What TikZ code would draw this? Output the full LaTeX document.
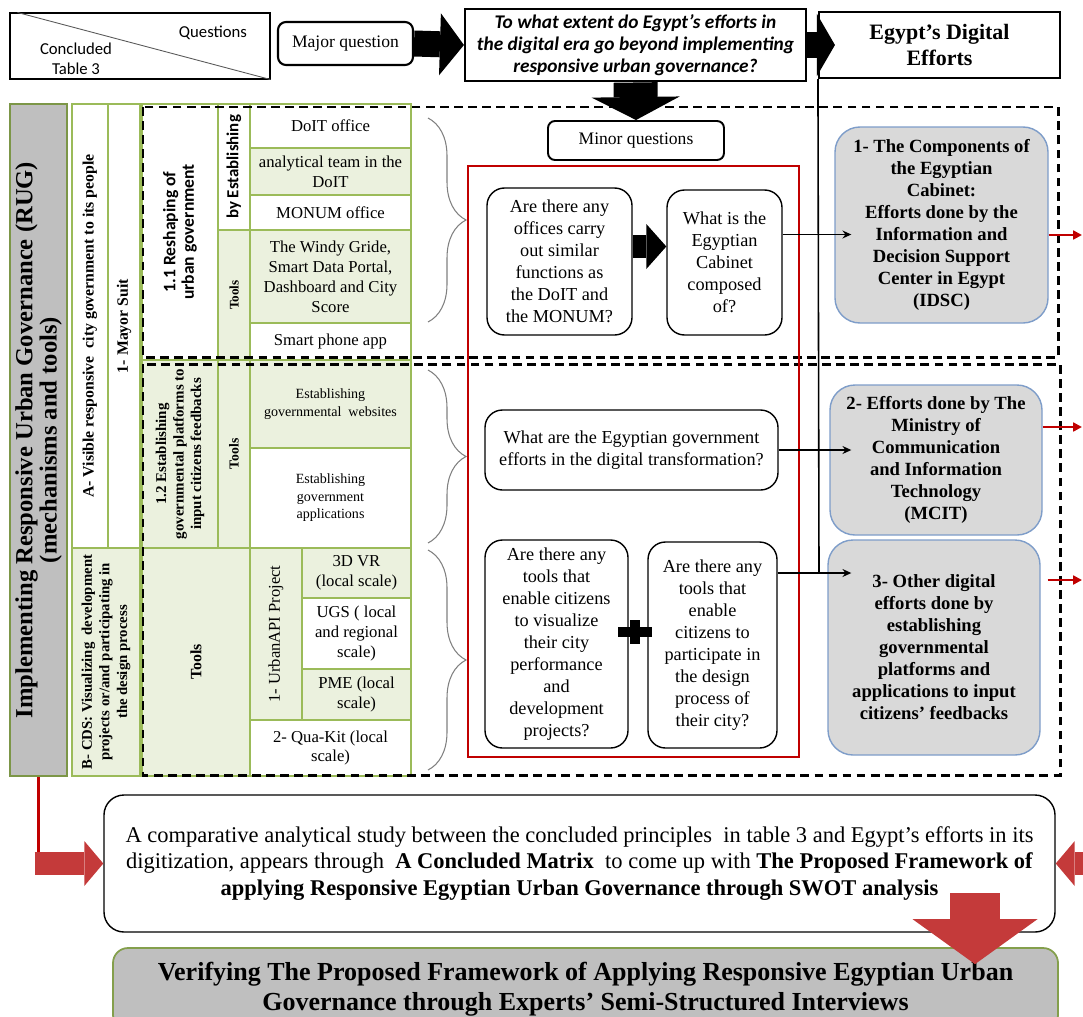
\documentclass[tikz,border=0pt]{standalone}
\usepackage{fontspec}
\setmainfont{Liberation Serif}
\newfontfamily\calibri{Carlito}
\usetikzlibrary{arrows.meta, decorations.pathreplacing}

\definecolor{tblgreen}{RGB}{155,187,89}
\definecolor{cellgreen}{RGB}{235,241,222}
\definecolor{rugray}{RGB}{191,191,191}
\definecolor{effgray}{RGB}{217,217,217}
\definecolor{effblue}{RGB}{126,157,201}
\definecolor{darkred}{RGB}{192,0,0}
\definecolor{arrowred}{RGB}{196,58,58}
\newcommand{\setfs}[2]{\fontsize{#1}{#2}\selectfont}

\begin{document}
\begin{tikzpicture}[
  tcell/.style={draw=tblgreen, line width=0.7pt, inner sep=1pt, align=center, font=\setfs{9.5}{11.3}},
  gcell/.style={tcell, fill=cellgreen},
  wcell/.style={tcell, fill=white},
  headcell/.style={font=\bfseries\setfs{9}{10.2}},
  qbox/.style={draw, line width=0.8pt, rounded corners=0.35cm, align=center, inner sep=2pt,
    font=\setfs{10.4}{12.5}},
  effbox/.style={draw=effblue, line width=0.8pt, fill=effgray, rounded corners=0.5cm, align=center,
    inner sep=2pt, font=\bfseries\setfs{10.6}{12.5}},
  topbox/.style={draw, line width=1.2pt, align=center},
  groupframe/.style={draw, line width=1.7pt, dash pattern=on 5pt off 3pt},
  link/.style={line width=0.9pt, -{Stealth[length=5pt, width=4.5pt]}},
  redlink/.style={draw=darkred, line width=1.3pt, -{Triangle[length=5pt, width=5pt]}},
  blockarrow/.style={line width=0.52cm, -{Triangle[length=0.48cm, width=1.24cm, line width=0pt]}},
  redblock/.style={draw=arrowred, line width=0.46cm, -{Triangle[length=0.38cm, width=0.9cm, line width=0pt]}},
  tablebrace/.style={draw=gray, line width=0.6pt, decorate, decoration={brace, amplitude=0.76cm}}
]
\useasboundingbox (0,0) rectangle (21.66,-20.32);

% --- header row ---
\node[draw, line width=0.6pt, minimum width=5.2cm, minimum height=1.32cm] (corner) at (2.8,-0.92) {};
\draw[gray!70!black, line width=0.5pt] ([xshift=0.16cm]corner.north west) -- (corner.south east);
\node[font=\calibri\setfs{9.5}{11}] (qlabel) at (4.26,-0.66) {Questions};
\node[font=\calibri\setfs{9.5}{11.5}, align=center] (tlabel) at (1.52,-1.18) {Concluded\\Table 3};

\node[draw, line width=1.2pt, rounded corners=0.16cm, minimum width=2.7cm, minimum height=0.86cm,
  font=\setfs{10}{12}] (major) at (6.91,-0.87) {Major question};
\node[topbox, minimum width=6.82cm, minimum height=1.4cm, font=\calibri\bfseries\itshape\setfs{11}{12.5}] (mainq)
  at (12.71,-0.9) {To what extent do Egypt’s efforts in\\the digital era go beyond implementing\\responsive urban governance?};
\node[topbox, minimum width=4.82cm, minimum height=1.32cm, font=\bfseries\setfs{12.5}{15}] (egypt)
  at (18.79,-0.9) {Egypt’s Digital\\Efforts};

\draw[blockarrow] (major.east) -- (mainq.west);
\draw[blockarrow, -{Triangle[length=0.36cm, width=1.24cm, line width=0pt]}] (mainq.east) -- ([xshift=0.34cm]egypt.west);

% --- minor questions ---
\node[draw, line width=1.1pt, rounded corners=0.14cm, minimum width=3.52cm, minimum height=0.78cm,
  font=\setfs{10}{12}] (minor) at (12.72,-2.81) {Minor questions};
\draw[line width=0.88cm, -{Triangle[length=0.46cm, width=1.76cm, line width=0pt]}] (mainq.south) -- (minor.north);

% --- table (left) ---
\node[tcell, fill=rugray, draw=tblgreen!80!black, line width=1.6pt, rotate=90, minimum width=13.44cm,
  minimum height=1.14cm, font=\bfseries\setfs{14}{13.8}] (rug) at (0.77,-8.8)
  {Implementing Responsive Urban Governance (RUG)\\(mechanisms and tools)};
\node[wcell, rotate=90, minimum width=8.88cm, minimum height=0.72cm, headcell] (visible) at (1.8,-6.52)
  {A- Visible responsive\ \ city government to its people};
\node[wcell, rotate=90, minimum width=8.88cm, minimum height=0.64cm, headcell] (mayor) at (2.48,-6.52)
  {1- Mayor Suit};
\node[gcell, rotate=90, minimum width=4.56cm, minimum height=1.36cm, font=\bfseries\setfs{8.4}{10}] (cds)
  at (2.12,-13.24) {B- CDS: Visualizing\ \ development\\projects or/and participating in\\the design process};

% 1.1 reshaping
\node[wcell, rotate=90, minimum width=5.12cm, minimum height=1.52cm, font=\calibri\bfseries\setfs{10}{10.5}]
  (reshape) at (3.6,-4.64) {1.1 Reshaping of\\urban government};
\node[wcell, rotate=90, minimum width=2.52cm, minimum height=0.64cm, font=\calibri\bfseries\setfs{9.6}{11}]
  (estab) at (4.68,-3.34) {by Establishing};
\node[gcell, rotate=90, minimum width=2.6cm, minimum height=0.64cm, font=\bfseries\setfs{7.5}{9}]
  (tools1) at (4.68,-5.9) {Tools};
\node[wcell, minimum width=3.22cm, minimum height=0.88cm] (doit) at (6.61,-2.52) {DoIT office};
\node[gcell, minimum width=3.22cm, minimum height=0.94cm] (team) at (6.61,-3.43) {analytical team in the\\DoIT};
\node[wcell, minimum width=3.22cm, minimum height=0.7cm] (monum) at (6.61,-4.25) {MONUM office};
\node[gcell, minimum width=3.22cm, minimum height=1.86cm] (windy) at (6.61,-5.53)
  {The Windy Gride,\\Smart Data Portal,\\Dashboard and City\\Score};
\node[wcell, minimum width=3.22cm, minimum height=0.74cm] (phone) at (6.61,-6.83) {Smart phone app};

% 1.2 platforms
\node[gcell, rotate=90, minimum width=3.76cm, minimum height=1.52cm, font=\bfseries\setfs{8.5}{10}]
  (platform) at (3.6,-9.08) {1.2 Establishing\\governmental platforms to\\input citizens feedbacks};
\node[gcell, rotate=90, minimum width=3.76cm, minimum height=0.64cm, font=\bfseries\setfs{7.8}{9}]
  (tools2) at (4.68,-9.08) {Tools};
\node[gcell, minimum width=3.22cm, minimum height=1.76cm, font=\setfs{8}{10}] (web) at (6.61,-8.08)
  {Establishing\\governmental\ \ websites};
\node[wcell, minimum width=3.22cm, minimum height=2.0cm, font=\setfs{8}{10}] (apps) at (6.61,-9.96)
  {Establishing\\government\\applications};

% B- CDS tools
\node[gcell, rotate=90, minimum width=4.56cm, minimum height=2.16cm, font=\bfseries\setfs{9}{11}]
  (tools3) at (3.92,-13.24) {Tools};
\node[gcell, rotate=90, minimum width=3.44cm, minimum height=1.04cm, font=\setfs{9.4}{11}]
  (api) at (5.52,-12.68) {1- UrbanAPI Project};
\node[gcell, minimum width=2.18cm, minimum height=1.0cm] (vr) at (7.13,-11.46) {3D VR\\(local scale)};
\node[wcell, minimum width=2.18cm, minimum height=1.42cm] (ugs) at (7.13,-12.67) {UGS ( local\\and regional\\scale)};
\node[gcell, minimum width=2.18cm, minimum height=1.02cm] (pme) at (7.13,-13.89) {PME (local\\scale)};
\node[wcell, minimum width=3.22cm, minimum height=1.12cm] (qua) at (6.61,-14.96) {2- Qua-Kit (local\\scale)};

% dashed groups
\draw[groupframe] (2.86,-2.14) rectangle (21.16,-7.14);
\draw[groupframe] (2.86,-7.28) rectangle (21.2,-15.5);

\draw[tablebrace] (8.56,-2.36) -- (8.56,-6.44);
\draw[tablebrace] (8.56,-7.4) -- (8.56,-10.86);
\draw[tablebrace] (8.56,-11.0) -- (8.56,-15.4);

% --- minor questions frame ---
\draw[darkred, line width=1.1pt] (9.36,-3.32) rectangle (15.98,-15.14);

\node[qbox, minimum width=2.9cm, minimum height=2.94cm] (q1) at (11.19,-5.23)
  {Are there any\\offices carry\\out similar\\functions as\\the DoIT and\\the MONUM?};
\node[qbox, minimum width=2.3cm, minimum height=2.9cm] (q2) at (14.49,-5.25)
  {What is the\\Egyptian\\Cabinet\\composed\\of?};
\node[qbox, minimum width=5.86cm, minimum height=1.6cm] (q3) at (12.63,-9.0)
  {What are the Egyptian government\\efforts in the digital transformation?};
\node[qbox, minimum width=2.86cm, minimum height=4.16cm] (q4) at (11.13,-12.88)
  {Are there any\\tools that\\enable citizens\\to visualize\\their city\\performance\\and\\development\\projects?};
\node[qbox, minimum width=2.58cm, minimum height=4.12cm] (q5) at (14.25,-12.9)
  {Are there any\\tools that\\enable\\citizens to\\participate in\\the design\\process of\\their city?};

\draw[line width=0.46cm, -{Triangle[length=0.4cm, width=0.9cm, line width=0pt]}]
  ([yshift=0.3cm]q1.east) -- ([yshift=0.3cm]q1.east -| q2.west);

% plus sign
\fill (12.36,-12.54) rectangle (13.04,-12.74);
\fill (12.6,-12.4) rectangle (12.8,-12.88);

% --- Egypt's efforts (right) ---
\node[effbox, minimum width=4.26cm, minimum height=3.92cm] (e1) at (18.83,-4.5)
  {1- The Components of\\the Egyptian\\Cabinet:\\Efforts done by the\\Information and\\Decision Support\\Center in Egypt\\(IDSC)};
\node[effbox, minimum width=4.24cm, minimum height=3.0cm] (e2) at (18.72,-9.2)
  {2- Efforts done by The\\Ministry of\\Communication\\and Information\\Technology\\(MCIT)};
\node[effbox, minimum width=4.24cm, minimum height=4.3cm] (e3) at (18.68,-12.95)
  {3- Other digital\\efforts done by\\establishing\\governmental\\platforms and\\applications to input\\citizens’ feedbacks};

\coordinate (j3) at (16.38,-11.46);
\draw[line width=0.9pt] (egypt.south west) -- (j3);
\draw[link] ([yshift=0.56cm]q2.east) -- ([yshift=0.56cm, xshift=0.34cm]q2.east -| e1.west);
\draw[link] (q3.east) -- ([xshift=0.44cm]q3.east -| e2.west);
\draw[link] (q5.east |- j3) -- ([xshift=0.48cm]j3 -| e3.west);

\coordinate (o1) at (21.64,-4.7);
\coordinate (o2) at (21.64,-8.54);
\coordinate (o3) at (21.64,-11.6);
\draw[redlink] (e1.east |- o1) -- (o1);
\draw[redlink] (e2.east |- o2) -- (o2);
\draw[redlink] ([xshift=0.14cm]e3.east |- o3) -- (o3);

% --- conclusion ---
\node[draw, rounded corners=0.4cm, line width=0.8pt, minimum width=19.02cm, minimum height=2.74cm, align=center,
  font=\setfs{12.8}{15}] (comp) at (11.59,-17.27)
  {A comparative analytical study between the concluded principles\ \ in table 3 and Egypt’s efforts in its\\
   digitization, appears through\ \ \textbf{A Concluded Matrix}\ \ to come up with \textbf{The Proposed Framework of}\\
   \textbf{applying Responsive Egyptian Urban Governance through SWOT analysis}};
\node[draw=tblgreen!85!black, fill=rugray, line width=1pt, rounded corners=0.3cm, minimum width=18.9cm,
  minimum height=1.64cm, align=center, font=\bfseries\setfs{14.8}{17}] (verify) at (11.71,-19.78)
  {Verifying The Proposed Framework of Applying Responsive Egyptian Urban\\Governance through Experts’ Semi-Structured Interviews};

\draw[darkred, line width=1.6pt] (rug.west) -- (rug.west |- comp.west);
\draw[redblock] ([xshift=-0.08cm]rug.west |- comp.west) -- (comp.west);
\coordinate (rin) at (21.66,-17.27);
\draw[redblock] (rin) -- (comp.east);
\coordinate (dn) at (19.5,-17.86);
\draw[redblock, line width=1.0cm, -{Triangle[length=0.9cm, width=2.5cm, line width=0pt]}]
  (dn) -- ([yshift=-0.34cm]dn |- verify.north);

\end{tikzpicture}
\end{document}
